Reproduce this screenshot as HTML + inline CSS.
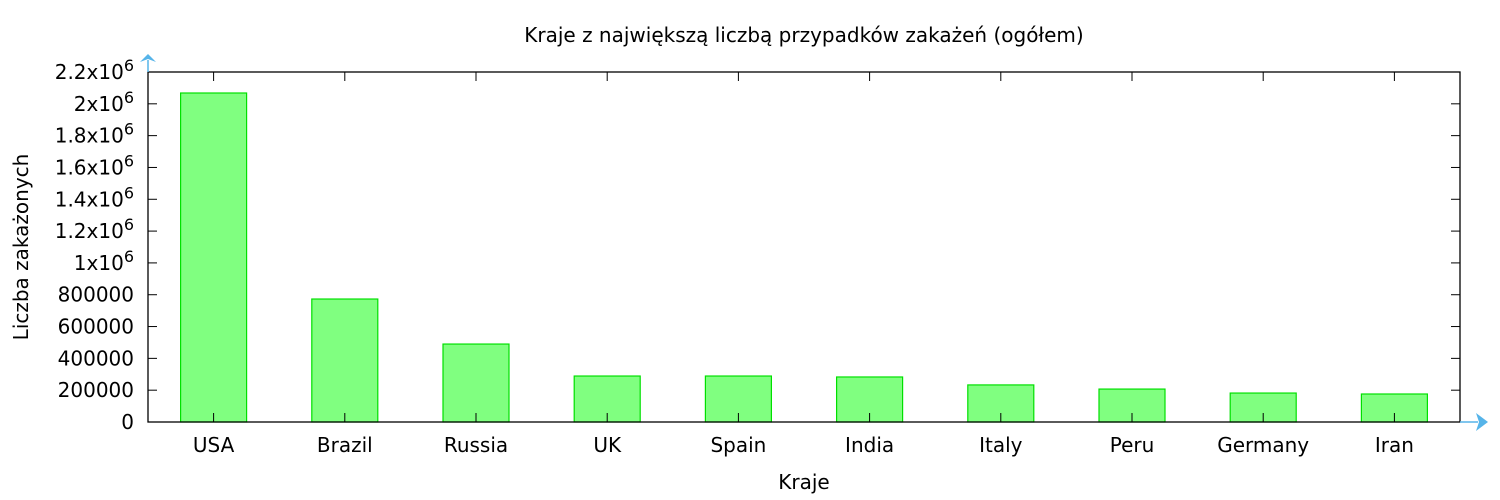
<!DOCTYPE html>
<html><head><meta charset="utf-8"><style>
html,body{margin:0;padding:0;background:#fff;}
svg{display:block;font-family:"DejaVu Sans","Liberation Sans",sans-serif;}
</style></head><body>
<svg id="chart" width="1500" height="500" viewBox="0 0 1500 500">
<text x="804" y="42" text-anchor="middle" font-size="20">Kraje z największą liczbą przypadków zakażeń (ogółem)</text>
<text x="804" y="489" text-anchor="middle" font-size="20">Kraje</text>
<text transform="translate(28,247) rotate(-90)" text-anchor="middle" font-size="20">Liczba zakażonych</text>
<g id="bars"></g><g id="axes"></g>
</svg>
<script>
const categories=["USA","Brazil","Russia","UK","Spain","India","Italy","Peru","Germany","Iran"];
const values=[2068000,773000,490000,289000,289000,283000,233000,207000,182000,176000];
const yTicks=[0,200000,400000,600000,800000,1000000,1200000,1400000,1600000,1800000,2000000,2200000];
const yTickLabels=["0","200000","400000","600000","800000","1x10|6","1.2x10|6","1.4x10|6","1.6x10|6","1.8x10|6","2x10|6","2.2x10|6"];
const L=148,R=1460,T=72,B=422,YMAX=2200000;
const NS="http://www.w3.org/2000/svg";
const y=v=>B-(v/YMAX)*(B-T);
const bw=(R-L)/categories.length;
const x=i=>L+bw*(i+0.5);
const bars=document.getElementById('bars'),axes=document.getElementById('axes');
function mk(tag,at,p){const e=document.createElementNS(NS,tag);for(const k in at)e.setAttribute(k,at[k]);p.appendChild(e);return e;}
values.forEach((v,i)=>{
 const r=mk('rect',{x:x(i)-33,y:y(v),width:66,height:B-y(v),fill:'#80ff80',stroke:'#00e000','stroke-width':1.2},bars);
 
 
 const t=mk('text',{x:x(i),y:452,'text-anchor':'middle','font-size':20},axes);
 t.textContent=categories[i];
 
 
 mk('line',{x1:x(i),x2:x(i),y1:B,y2:B-9,stroke:'#000'},axes);
 mk('line',{x1:x(i),x2:x(i),y1:T,y2:T+9,stroke:'#000'},axes);
});
yTicks.forEach((v,i)=>{
 const yy=y(v);
 mk('line',{x1:L,x2:L+9,y1:yy,y2:yy,stroke:'#000'},axes);
 mk('line',{x1:R,x2:R-9,y1:yy,y2:yy,stroke:'#000'},axes);
 const t=mk('text',{x:134,y:yy+7,'text-anchor':'end','font-size':20},axes);
 
 
 const parts=yTickLabels[i].split('|');
 t.textContent=parts[0];
 if(parts.length>1){
  const s=mk('tspan',{dy:-8,'font-size':16},t);
  s.textContent=parts[1];
 }
});
mk('rect',{x:L,y:T,width:R-L,height:B-T,fill:'none',stroke:'#000','stroke-width':1.3},axes);
mk('line',{x1:R,x2:1478,y1:B,y2:B,stroke:'#56b4e9','stroke-width':1.5},axes);
mk('polygon',{points:'1476,413 1488,422 1476,431 1479,422',fill:'#56b4e9'},axes);
mk('line',{x1:L,x2:L,y1:T,y2:60,stroke:'#56b4e9','stroke-width':1.5},axes);
mk('polygon',{points:'140,62 148,54 156,62 148,59',fill:'#56b4e9'},axes);
</script>
</body></html>
